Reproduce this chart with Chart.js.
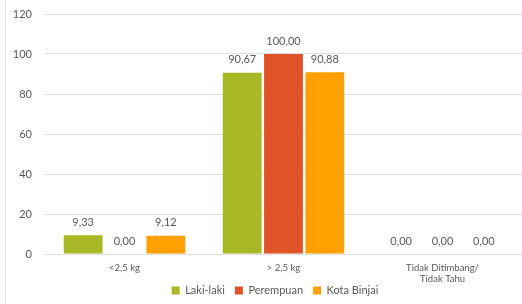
<!DOCTYPE html>
<html>
<head>
<meta charset="utf-8">
<script src="https://cdn.jsdelivr.net/npm/chart.js@4"></script>
<style>
  html, body { margin: 0; padding: 0; background: #fff; }
  #wrap { position: relative; width: 522px; height: 304px; }
</style>
</head>
<body>
<div id="wrap"><canvas id="chart"></canvas></div>
<script>
// Data
const categories = ['<2,5 kg', '> 2,5 kg', ['Tidak Ditimbang/', 'Tidak Tahu']];
const lakiLaki = [9.33, 90.67, 0];
const perempuan = [0, 100, 0];
const kotaBinjai = [9.12, 90.88, 0];
const yTicks = [0, 20, 40, 60, 80, 100, 120];

const FONT = "Lato, 'Open Sans', sans-serif";
Chart.defaults.font.family = FONT;
Chart.defaults.color = '#595959';

// Value labels above each bar, comma decimal like the original
const valueLabels = {
    id: 'valueLabels',
    afterDatasetsDraw(chart) {
        const ctx = chart.ctx;
        ctx.save();
        ctx.font = '11px ' + FONT;
        ctx.fillStyle = '#595959';
        ctx.textAlign = 'center';
        ctx.textBaseline = 'middle';
        chart.data.datasets.forEach((ds, i) => {
            chart.getDatasetMeta(i).data.forEach((bar, j) => {
                const txt = ds.data[j].toFixed(2).replace('.', ',');
                ctx.fillText(txt, bar.x, bar.y - 13);
            });
        });
        ctx.restore();
    }
};

// Layout tweaks so the boxes sit where the original has them
const frameLine = {
    id: 'frameLine',
    afterLayout(chart) {
        chart.legend.left += 14;
        chart.legend.right += 14;
        chart.legend.top += 4;
        chart.legend.bottom += 4;
        // let the two-line label run past the squeezed axis box
        chart.scales.x.bottom += 24;
        // pull the top of the plot up to y=14
        const y = chart.scales.y;
        y.top = 14;
        y.height = y.bottom - y.top;
        y.configure();
        chart.chartArea.top = 14;
        chart.chartArea.height = chart.chartArea.bottom - 14;
    },
    beforeDraw(chart) {
        const ctx = chart.ctx;
        ctx.save();
        ctx.fillStyle = '#e3e3e3';
        ctx.fillRect(5, 0, 1, chart.height);
        ctx.restore();
    }
};

new Chart(document.getElementById('chart'), {
    type: 'bar',
    data: {
        labels: categories,
        datasets: [
            { label: 'Laki-laki', data: lakiLaki, backgroundColor: '#a8b826' },
            { label: 'Perempuan', data: perempuan, backgroundColor: '#e05328' },
            { label: 'Kota Binjai', data: kotaBinjai, backgroundColor: '#ffa000' }
        ]
    },
    options: {
        responsive: true,
        maintainAspectRatio: false,
        animation: false,
        categoryPercentage: 0.78,
        barPercentage: 0.94,
        layout: { padding: { top: 0, right: 0, left: 0, bottom: 2 } },
        plugins: {
            legend: {
                position: 'bottom',
                labels: {
                    boxWidth: 8,
                    boxHeight: 8,
                    padding: 10,
                    font: { size: 11 },
                    color: '#595959'
                }
            },
            tooltip: { enabled: false }
        },
        scales: {
            x: {
                afterFit: axis => { axis.height = 17; },
                grid: { display: false, drawTicks: false },
                border: { display: false },
                ticks: { font: { size: 9.5, lineHeight: 1.2 }, color: '#595959', maxRotation: 0, padding: 8 }
            },
            y: {
                min: 0,
                max: 120,
                afterBuildTicks: axis => { axis.ticks = yTicks.map(v => ({ value: v })); },
                afterFit: axis => { axis.width = 45; },
                grid: { color: '#e0e0e0', drawTicks: false },
                border: { display: false },
                ticks: { font: { size: 11 }, color: '#595959', padding: 13 }
            }
        }
    },
    plugins: [valueLabels, frameLine]
});
</script>
</body>
</html>
